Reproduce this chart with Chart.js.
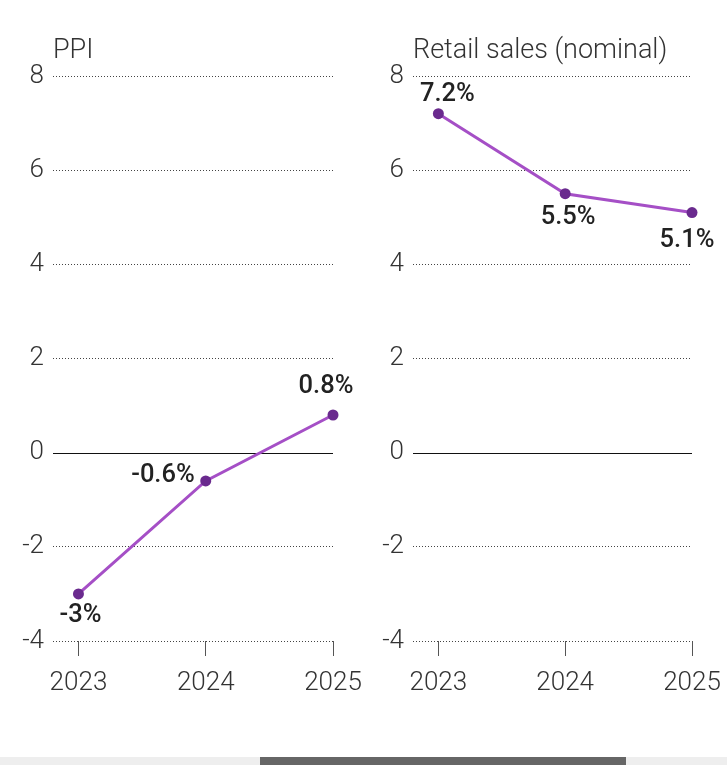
<!DOCTYPE html>
<html>
<head>
<meta charset="utf-8">
<script src="https://cdn.jsdelivr.net/npm/chart.js@4/dist/chart.umd.min.js"></script>
<style>
  html, body { margin: 0; padding: 0; background: #fff; }
  #wrap { position: relative; width: 727px; height: 779px; overflow: hidden; }
  .panel { position: absolute; top: 0; height: 720px; }
  #track { position: absolute; left: 0; top: 757px; width: 727px; height: 8px; background: #eeeeee; }
  #thumb { position: absolute; left: 260px; top: 757px; width: 366px; height: 8px; background: #666666; }
</style>
</head>
<body>
<div id="wrap">
  <div class="panel" style="left:0;width:363px"><canvas id="c1"></canvas></div>
  <div class="panel" style="left:360px;width:367px"><canvas id="c2"></canvas></div>
  <div id="track"></div>
  <div id="thumb"></div>
</div>
<script>
// ---- data ----
const years = [2023, 2024, 2025];
const ppiValues = [-3, -0.6, 0.8];
const retailValues = [7.2, 5.5, 5.1];
const yTicks = [-4, -2, 0, 2, 4, 6, 8];
const panelTitles = ["PPI", "Retail sales (nominal)"];

// label placement (style, not data): [dx, dy, textAlign]
const ppiLabelPlacement = [[2, 22, 'center'], [-11, -5, 'right'], [-7, -28, 'center']];
const retailLabelPlacement = [[9, -19, 'center'], [3, 24, 'center'], [-5, 28, 'center']];

const FONT = 'Roboto';
const LINE_COLOR = '#a54fc6';
const POINT_COLOR = '#6a2a8e';

const decorPlugin = {
  id: 'decor',
  afterDatasetsDraw(chart, args, opts) {
    const ctx = chart.ctx;
    const ca = chart.chartArea;
    ctx.save();
    // title
    ctx.font = '300 27px ' + FONT;
    ctx.fillStyle = '#333';
    ctx.textAlign = 'left';
    ctx.textBaseline = 'alphabetic';
    ctx.fillText(opts.title, ca.left, 58);
    // data labels
    const meta = chart.getDatasetMeta(0);
    const vals = chart.data.datasets[0].data;
    ctx.font = '500 25.5px ' + FONT;
    ctx.fillStyle = '#222';
    ctx.textBaseline = 'middle';
    meta.data.forEach((pt, i) => {
      const p = opts.placement[i];
      ctx.textAlign = p[2];
      ctx.fillText(vals[i].y + '%', pt.x + p[0], pt.y + p[1]);
    });
    ctx.restore();
  },
  beforeDatasetsDraw(chart) {
    const ctx = chart.ctx;
    const ca = chart.chartArea;
    const y0 = Math.round(chart.scales.y.getPixelForValue(0)) + 0.5;
    ctx.save();
    ctx.strokeStyle = '#111';
    ctx.lineWidth = 1;
    ctx.beginPath();
    ctx.moveTo(ca.left, y0);
    ctx.lineTo(ca.right, y0);
    ctx.stroke();
    ctx.restore();
  }
};

function makeChart(id, values, title, placement, padRight) {
  const data = years.map((yr, i) => ({ x: yr, y: values[i] }));
  return new Chart(document.getElementById(id), {
    type: 'line',
    data: {
      datasets: [{
        data: data,
        borderColor: LINE_COLOR,
        borderWidth: 3,
        pointBackgroundColor: POINT_COLOR,
        pointBorderColor: POINT_COLOR,
        pointRadius: 5.5,
        pointBorderWidth: 0,
        tension: 0,
        clip: false
      }]
    },
    options: {
      responsive: true,
      maintainAspectRatio: false,
      animation: false,
      devicePixelRatio: 1,
      layout: { padding: { top: 76, right: padRight, bottom: 0, left: 0 } },
      plugins: {
        legend: { display: false },
        tooltip: { enabled: false },
        decor: { title: title, placement: placement }
      },
      scales: {
        x: {
          type: 'linear',
          min: 2022.8,
          max: 2025,
          afterBuildTicks(scale) { scale.ticks = years.map(v => ({ value: v })); },
          afterFit(scale) { scale.height = 79; scale.paddingLeft = 0; scale.paddingRight = 0; },
          ticks: {
            callback: v => String(v),
            font: { family: FONT, size: 26, weight: '300' },
            color: '#333',
            padding: 12,
            maxRotation: 0,
            autoSkip: false
          },
          grid: {
            drawOnChartArea: false,
            drawTicks: true,
            tickLength: 15,
            tickColor: '#555',
            tickWidth: 1
          },
          border: { display: false }
        },
        y: {
          min: -4,
          max: 8,
          afterBuildTicks(scale) { scale.ticks = yTicks.map(v => ({ value: v })); },
          afterFit(scale) { scale.width = 53; scale.paddingTop = 0; scale.paddingBottom = 0; },
          ticks: {
            font: { family: FONT, size: 26, weight: '300' },
            color: '#333',
            padding: 9
          },
          grid: {
            drawTicks: false,
            color: ctx => ctx.tick && ctx.tick.value === 0 ? 'rgba(0,0,0,0)' : '#444',
            lineWidth: 1
          },
          border: { display: false, dash: [1, 2] }
        }
      }
    },
    plugins: [decorPlugin]
  });
}

makeChart('c1', ppiValues, panelTitles[0], ppiLabelPlacement, 30);
makeChart('c2', retailValues, panelTitles[1], retailLabelPlacement, 35);
</script>
</body>
</html>
